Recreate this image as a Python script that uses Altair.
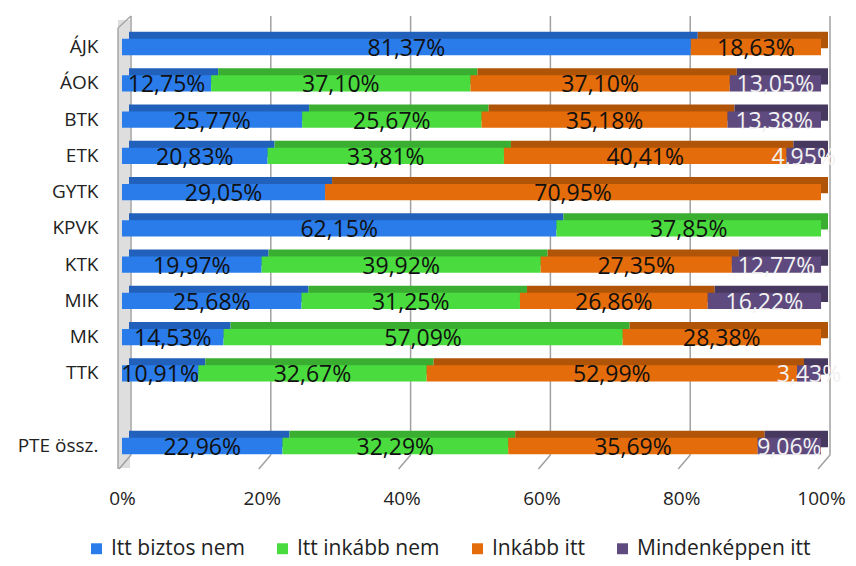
import altair as alt
import pandas as pd

categories = ["ÁJK", "ÁOK", "BTK", "ETK", "GYTK", "KPVK", "KTK", "MIK", "MK", "TTK", "PTE össz."]
series = ["Itt biztos nem", "Itt inkább nem", "Inkább itt", "Mindenképpen itt"]
itt_biztos_nem = [81.37, 12.75, 25.77, 20.83, 29.05, 62.15, 19.97, 25.68, 14.53, 10.91, 22.96]
itt_inkabb_nem = [0, 37.10, 25.67, 33.81, 0, 37.85, 39.92, 31.25, 57.09, 32.67, 32.29]
inkabb_itt = [18.63, 37.10, 35.18, 40.41, 70.95, 0, 27.35, 26.86, 28.38, 52.99, 35.69]
mindenkeppen_itt = [0, 13.05, 13.38, 4.95, 0, 0, 12.77, 16.22, 0, 3.43, 9.06]
x_ticks = [0, 20, 40, 60, 80, 100]

front_colors = ["#2A7CEA", "#4ADC3F", "#E46C0A", "#5E4A7E"]
top_colors = ["#2161BB", "#3AAE31", "#B05408", "#47385F"]
label_colors = ["#111111", "#111111", "#111111", "#F2F2F2"]

FONT = "Open Sans"
W, H = 699, 453
SPACER = " "
y_domain = categories[:10] + [SPACER] + categories[10:]

all_values = [itt_biztos_nem, itt_inkabb_nem, inkabb_itt, mindenkeppen_itt]
rows = []
for ci, cat in enumerate(categories):
    start = 0.0
    for si, s in enumerate(series):
        v = all_values[si][ci]
        if v > 0:
            rows.append({
                "cat": cat, "series": s, "start": start, "end": start + v,
                "mid": start + v / 2,
                "lbl": f"{v:.2f}".replace(".", ",") + "%",
                "top": top_colors[si], "lc": label_colors[si],
            })
        start += v
df = pd.DataFrame(rows)
ticks_df = pd.DataFrame({"t": x_ticks})
wall_df = pd.DataFrame({"t": [0]})

x_scale = alt.Scale(domain=[0, 100], nice=False, zero=False)
y_scale = alt.Scale(domain=y_domain, range=[12.9, 448.1], paddingInner=0.55, paddingOuter=0.275)

x_axis = alt.Axis(values=x_ticks, labelExpr="datum.value + '%'", grid=False, domain=False,
                  ticks=False, labelFont=FONT, labelFontSize=19, labelColor="#222222",
                  labelPadding=20, labelFlush=False, labelOverlap=False, title=None)
y_axis = alt.Axis(domain=False, ticks=False, grid=False, labelFont=FONT, labelFontSize=19,
                  labelColor="#222222", labelPadding=24, title=None)

wall = alt.Chart(wall_df).mark_rule(color="#dedede", strokeWidth=12, xOffset=2).encode(
    x=alt.X("t:Q", scale=x_scale, axis=x_axis), y=alt.value(4), y2=alt.value(452))
wall_front = alt.Chart(wall_df).mark_rule(color="#a6a6a6", strokeWidth=1.5, xOffset=-4).encode(
    x=alt.X("t:Q", scale=x_scale, axis=x_axis), y=alt.value(12), y2=alt.value(453))
wall_top = alt.Chart(wall_df).mark_rule(color="#a6a6a6", strokeWidth=1.5, xOffset=-4, x2Offset=9).encode(
    x=alt.X("t:Q", scale=x_scale, axis=x_axis), x2="t:Q", y=alt.value(12), y2=alt.value(0))

grid_back = alt.Chart(ticks_df).mark_rule(color="#a0a0a0", strokeWidth=1.5, xOffset=9).encode(
    x=alt.X("t:Q", scale=x_scale, axis=x_axis), y=alt.value(0), y2=alt.value(439))
grid_floor = alt.Chart(ticks_df).mark_rule(color="#a0a0a0", strokeWidth=1.5, xOffset=9, x2Offset=-3).encode(
    x=alt.X("t:Q", scale=x_scale, axis=x_axis), x2="t:Q", y=alt.value(439), y2=alt.value(453))

top_bars = alt.Chart(df).mark_bar(xOffset=7, x2Offset=7, yOffset=-7, y2Offset=-7).encode(
    x=alt.X("start:Q", scale=x_scale, axis=x_axis), x2="end:Q",
    y=alt.Y("cat:N", scale=y_scale, axis=y_axis),
    color=alt.Color("top:N", scale=None))

front_bars = alt.Chart(df).mark_bar().encode(
    x=alt.X("start:Q", scale=x_scale, axis=x_axis), x2="end:Q",
    y=alt.Y("cat:N", scale=y_scale, axis=y_axis),
    color=alt.Color("series:N", scale=alt.Scale(domain=series, range=front_colors),
                    legend=alt.Legend(orient="none", legendX=-36, legendY=522, direction="horizontal",
                                      title=None, symbolType="square", symbolSize=120,
                                      symbolStrokeWidth=0, labelFont=FONT, labelFontSize=21,
                                      labelColor="#222222", labelLimit=400, columnPadding=27,
                                      padding=0)))

labels = alt.Chart(df).mark_text(font=FONT, fontSize=23, dy=2).encode(
    x=alt.X("mid:Q", scale=x_scale, axis=x_axis),
    y=alt.Y("cat:N", scale=y_scale, axis=y_axis),
    text="lbl:N", color=alt.Color("lc:N", scale=None))

chart = alt.layer(wall, wall_front, wall_top, grid_back, grid_floor, top_bars, front_bars, labels).properties(
    width=W, height=H,
    autosize=alt.AutoSizeParams(type="none"),
    padding={"left": 114, "top": 8, "right": 27, "bottom": 96},
).configure_view(stroke=None)

chart.save("out.html", embed_options={"renderer": "svg", "actions": False})
